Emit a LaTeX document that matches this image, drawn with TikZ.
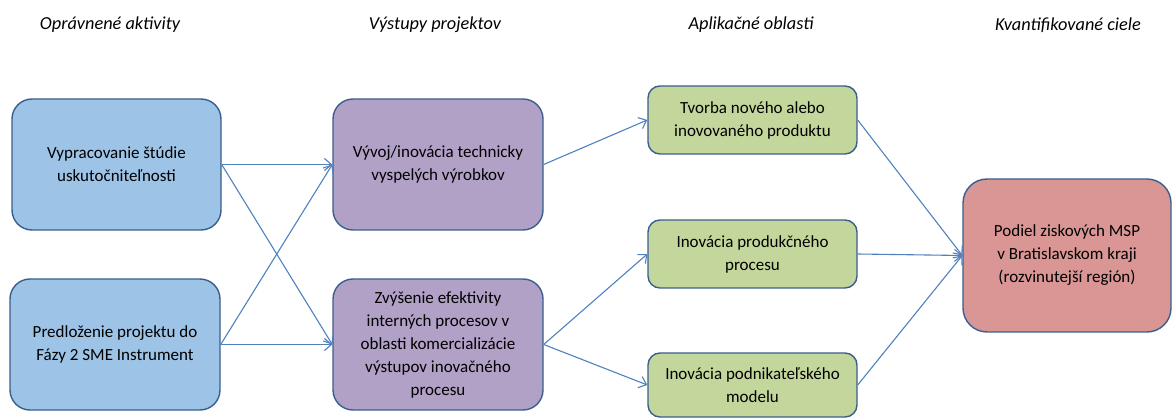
\documentclass[tikz,border=0pt]{standalone}
\usepackage{fontspec}
\setmainfont{Carlito}
\usetikzlibrary{arrows.meta}
\definecolor{bfill}{HTML}{9DC3E6}
\definecolor{pfill}{HTML}{B2A1C7}
\definecolor{gfill}{HTML}{C3D69B}
\definecolor{rfill}{HTML}{D99694}
\definecolor{bord}{HTML}{3A5F8E}
\definecolor{arr}{HTML}{4F81BD}
\tikzset{
  box/.style={draw=bord, line width=1.4pt, rounded corners=20pt, align=center,
    inner sep=2pt, font=\fontsize{17}{23}\selectfont},
  gbox/.style={box, fill=gfill, rounded corners=12pt},
  head/.style={font=\fontsize{18.3}{20}\selectfont\itshape},
  link/.style={draw=arr, line width=1.1pt, -{Straight Barb[length=7pt,width=12pt]}}
}
\begin{document}
\begin{tikzpicture}[x=1pt,y=-1pt]
\useasboundingbox (0,0) rectangle (1172,419);
\node[head] (h1) at (110,25) {Oprávnené aktivity};
\node[head] (h2) at (435,25) {Výstupy projektov};
\node[head] (h3) at (751,25) {Aplikačné oblasti};
\node[head] (h4) at (1068,25) {Kvantifikované ciele};

\node[box, fill=bfill, minimum width=209pt, minimum height=131pt] (b1) at (116.5,164.5) {Vypracovanie štúdie\\uskutočniteľnosti};
\node[box, fill=bfill, minimum width=210pt, minimum height=131pt] (b2) at (115,344.5) {Predloženie projektu do\\Fázy 2 SME Instrument};
\node[box, fill=pfill, minimum width=210pt, minimum height=131pt] (p1) at (438,164.5) {Vývoj/inovácia technicky\\vyspelých výrobkov};
\node[box, fill=pfill, minimum width=210pt, minimum height=131pt] (p2) at (438,344.5) {Zvýšenie efektivity\\interných procesov v\\oblasti komercializácie\\výstupov inovačného\\procesu};
\node[gbox, minimum width=209pt, minimum height=68pt] (g1) at (752.5,120) {Tvorba nového alebo\\inovovaného produktu};
\node[gbox, minimum width=209pt, minimum height=68pt] (g2) at (752.5,254) {Inovácia produkčného\\procesu};
\node[gbox, minimum width=209pt, minimum height=64pt] (g3) at (752.5,385) {Inovácia podnikateľského\\modelu};
\node[box, fill=rfill, minimum width=208pt, minimum height=153pt, rounded corners=24pt] (r) at (1067,255.5) {Podiel ziskových MSP\\v Bratislavskom kraji\\(rozvinutejší región)};

\draw[link] (b1.east) -- (p1.west);
\draw[link] (b1.east) -- (p2.west);
\draw[link] (b2.east) -- (p2.west);
\draw[link] (b2.east) -- (p1.west);
\draw[link] (p1.east) -- (g1.west);
\draw[link] (p2.east) -- (g2.west);
\draw[link] (p2.east) -- (g3.west);
\draw[link] (g1.east) -- (r.west);
\draw[link] (g2.east) -- (r.west);
\draw[link] (g3.east) -- (r.west);
\end{tikzpicture}
\end{document}
